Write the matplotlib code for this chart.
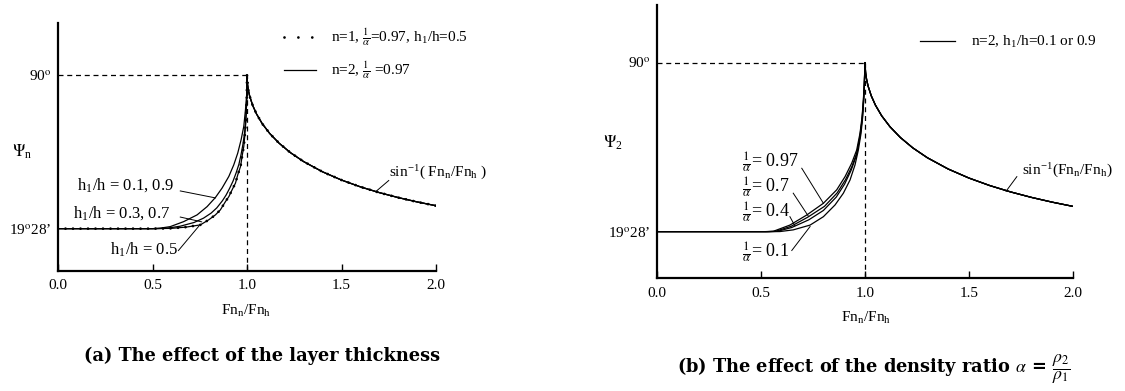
import matplotlib.pyplot as plt
from matplotlib.lines import Line2D

plt.rcParams['font.family'] = ['Liberation Serif', 'DejaVu Serif']
plt.rcParams['mathtext.fontset'] = 'stix'
plt.rcParams['font.size'] = 11

W, H = 1125, 391

# supercritical branch (Fn_n/Fn_h > 1), common to every curve
fr_sup = [1.0, 1.003, 1.008, 1.015, 1.03, 1.05, 1.08, 1.12, 1.17, 1.23, 1.3,
          1.4, 1.5, 1.6, 1.7, 1.8, 1.9, 2.0]
psi_sup = [90.0, 85.56, 82.78, 80.14, 76.14, 72.25, 67.8, 63.23, 58.73, 54.39,
           50.28, 45.58, 41.81, 38.68, 36.03, 33.75, 31.76, 30.0]

# (a) subcritical branch for different layer thickness
fr_n1 = [0.0, 0.5, 0.6, 0.68, 0.753, 0.797, 0.833, 0.859, 0.886, 0.904, 0.921,
         0.939, 0.951, 0.966, 0.974, 0.983, 0.988, 0.992, 0.996, 0.999, 1.0]
psi_n1 = [19.47, 19.47, 19.6, 20.2, 21.2, 23.5, 25.8, 28.1, 31.9, 34.2, 37.3,
          40.4, 44.2, 48.1, 52.7, 57.3, 61.9, 66.5, 72.7, 80.3, 90.0]
fr_h37 = [0.0, 0.52, 0.58, 0.647, 0.72, 0.77, 0.81, 0.84, 0.87, 0.89, 0.908,
          0.926, 0.942, 0.957, 0.968, 0.978, 0.986, 0.992, 0.996, 0.999, 1.0]
psi_h37 = [19.47, 19.47, 19.7, 20.6, 22.3, 24.3, 26.6, 29.0, 32.3, 35.0, 38.0,
           41.3, 45.0, 49.0, 53.3, 58.0, 62.8, 67.5, 73.5, 81.0, 90.0]
fr_h19 = [0.0, 0.5, 0.541, 0.594, 0.665, 0.736, 0.789, 0.833, 0.868, 0.904,
          0.93, 0.951, 0.969, 0.983, 0.992, 0.999, 1.0]
psi_h19 = [19.47, 19.47, 19.7, 20.4, 22.7, 25.8, 29.6, 33.8, 38.1, 43.5, 48.8,
           54.2, 60.4, 66.5, 74.2, 81.9, 90.0]

# (b) subcritical branch for different density ratio 1/alpha
fr_a97 = [0.0, 0.52, 0.559, 0.639, 0.72, 0.8, 0.864, 0.904, 0.936, 0.96, 0.976,
          0.986, 0.992, 0.997, 1.0]
psi_a97 = [19.47, 19.47, 19.6, 22.2, 26.4, 31.3, 36.9, 42.4, 48.0, 53.5, 60.5,
           67.4, 74.4, 81.4, 90.0]
fr_a7 = [0.0, 0.53, 0.57, 0.645, 0.725, 0.805, 0.866, 0.906, 0.937, 0.961, 0.977,
         0.987, 0.993, 0.997, 1.0]
psi_a7 = [19.47, 19.47, 19.6, 21.7, 25.5, 30.0, 35.6, 41.1, 46.6, 52.4, 59.5,
          66.6, 73.8, 81.0, 90.0]
fr_a4 = [0.0, 0.54, 0.58, 0.648, 0.73, 0.8, 0.862, 0.902, 0.933, 0.958, 0.973,
         0.984, 0.991, 0.996, 1.0]
psi_a4 = [19.47, 19.47, 19.6, 21.2, 24.4, 28.3, 33.9, 39.3, 45.0, 51.0, 57.8,
          64.8, 72.0, 79.5, 90.0]
fr_a1 = [0.0, 0.56, 0.591, 0.655, 0.736, 0.8, 0.856, 0.896, 0.928, 0.952, 0.968,
         0.981, 0.989, 0.995, 1.0]
psi_a1 = [19.47, 19.47, 19.5, 20.2, 22.2, 25.7, 30.6, 35.5, 41.0, 47.3, 53.5,
          60.5, 67.4, 75.8, 90.0]

xticks = [0.0, 0.5, 1.0, 1.5, 2.0]
yticks = [19.47, 90.0]
ytick_labels = ["19$^{\\rm o}$28\u2019", "90$^{\\rm o}$"]
fn_label = "Fn$_\\mathregular{n}$/Fn$_\\mathregular{h}$"
sin_label = "sin$^\\mathregular{-1}$( Fn$_\\mathregular{n}$/Fn$_\\mathregular{h}$ )"

lw = 0.9
dot_style = dict(color='black', lw=2.0, dashes=(0.001, 2.7),
                 dash_capstyle='round')


def px_axes(x0, y0, x1, y1):
    return fig.add_axes([x0 / W, 1 - y1 / H, (x1 - x0) / W, (y1 - y0) / H])


def frame(ax):
    ax.set_xlim(0, 2.0)
    ax.set_ylim(0, 114)
    for s in ['top', 'right']:
        ax.spines[s].set_visible(False)
    for s in ['left', 'bottom']:
        ax.spines[s].set_linewidth(1.6)
    ax.set_xticks(xticks)
    ax.set_xticklabels([f"{t:.1f}" for t in xticks])
    ax.set_yticks(yticks)
    ax.set_yticklabels(ytick_labels)
    ax.tick_params(axis='x', direction='in', length=5, width=1, pad=6, labelsize=11)
    ax.tick_params(axis='y', length=0, pad=5, labelsize=11)
    # critical speed guides
    ax.plot([0, 1], [90, 90], color='black', lw=0.9, ls=(0, (4, 3)))
    ax.plot([1, 1], [0, 90], color='black', lw=0.9, ls=(0, (4, 3)))


def leader(ax, p0, p1):
    ax.plot([p0[0], p1[0]], [p0[1], p1[1]], color='black', lw=0.7)


fig = plt.figure(figsize=(W / 100, H / 100), dpi=100)

# ---------------- (a) layer thickness ----------------
ax1 = px_axes(58, 23, 436, 271)
frame(ax1)
for fr, psi in [(fr_h19, psi_h19), (fr_h37, psi_h37), (fr_n1, psi_n1)]:
    ax1.plot(fr + fr_sup[1:], psi + psi_sup[1:], color='black', lw=lw)
ax1.plot(fr_n1 + fr_sup[1:], psi_n1 + psi_sup[1:], **dot_style)

ax1.text(0.10, 39.5, "h$_\\mathregular{1}$/h = 0.1, 0.9", ha='left', va='center', fontsize=12)
leader(ax1, (0.647, 36.8), (0.833, 33.6))
ax1.text(0.08, 26.7, "h$_\\mathregular{1}$/h = 0.3, 0.7", ha='left', va='center', fontsize=12)
leader(ax1, (0.647, 24.8), (0.76, 22.6))
ax1.text(0.276, 9.6, "h$_\\mathregular{1}$/h = 0.5", ha='left', va='center', fontsize=12)
leader(ax1, (0.637, 9.4), (0.745, 20.6))
ax1.text(1.75, 45.5, sin_label, ha='left', va='center', fontsize=11)
leader(ax1, (1.75, 41.6), (1.68, 36.4))

dot_proxy = Line2D([], [], color='black', lw=2.0, dashes=(0.001, 5.0),
                   dash_capstyle='round')
solid_proxy = Line2D([], [], color='black', lw=lw)
ax1.legend([dot_proxy, solid_proxy],
           ["n=1, $\\frac{1}{\\alpha}$=0.97, h$_\\mathregular{1}$/h=0.5",
            "n=2, $\\frac{1}{\\alpha}$ =0.97"],
           loc='upper left', bbox_to_anchor=(284 / W, 1 - 27 / H),
           bbox_transform=fig.transFigure, frameon=False, borderpad=0,
           borderaxespad=0, handlelength=2.1, handletextpad=1.0,
           labelspacing=0.75, fontsize=11)
ax1.set_ylabel("$\\Psi_\\mathregular{n}$", rotation=0, fontsize=12,
               ha='center', va='center')
ax1.yaxis.set_label_coords(-0.095, 0.48)

# ---------------- (b) density ratio ----------------
ax2 = px_axes(657, 5, 1073, 278.3)
frame(ax2)
for fr, psi in [(fr_a97, psi_a97), (fr_a7, psi_a7), (fr_a4, psi_a4), (fr_a1, psi_a1)]:
    ax2.plot(fr + fr_sup[1:], psi + psi_sup[1:], color='black', lw=lw)

ax2.text(0.407, 48.7, "$\\frac{1}{\\alpha}$= 0.97", ha='left', va='center', fontsize=13)
leader(ax2, (0.696, 45.9), (0.80, 31.3))
ax2.text(0.407, 38.2, "$\\frac{1}{\\alpha}$= 0.7", ha='left', va='center', fontsize=13)
leader(ax2, (0.655, 35.5), (0.727, 26.0))
ax2.text(0.407, 27.8, "$\\frac{1}{\\alpha}$= 0.4", ha='left', va='center', fontsize=13)
leader(ax2, (0.639, 25.7), (0.663, 21.9))
ax2.text(0.407, 11.1, "$\\frac{1}{\\alpha}$= 0.1", ha='left', va='center', fontsize=13)
leader(ax2, (0.648, 11.6), (0.736, 21.6))
ax2.text(1.755, 45.2, sin_label.replace("( ", "(").replace(" )", ")"),
         ha='left', va='center', fontsize=11)
leader(ax2, (1.73, 42.4), (1.678, 36.3))

ax2.legend([Line2D([], [], color='black', lw=lw)],
           ["n=2, h$_\\mathregular{1}$/h=0.1 or 0.9"],
           loc='upper left', bbox_to_anchor=(920 / W, 1 - 34 / H),
           bbox_transform=fig.transFigure, frameon=False, borderpad=0,
           borderaxespad=0, handlelength=2.3, handletextpad=1.05, fontsize=11)
ax2.set_ylabel("$\\Psi_\\mathregular{2}$", rotation=0, fontsize=12,
               ha='center', va='center')
ax2.yaxis.set_label_coords(-0.106, 0.495)

# axis titles and captions
fig.text(246 / W, 1 - 311 / H, fn_label, ha='center', va='center', fontsize=11)
fig.text(866 / W, 1 - 318 / H, fn_label, ha='center', va='center', fontsize=11)
fig.text(262 / W, 1 - 356 / H, "(a) The effect of the layer thickness",
         ha='center', va='center', fontsize=12.8, fontweight='bold',
         family='DejaVu Serif')
fig.text(874 / W, 1 - 369 / H,
         "(b) The effect of the density ratio $\\alpha$ = $\\dfrac{\\rho_2}{\\rho_1}$",
         ha='center', va='center', fontsize=12.8, fontweight='bold',
         family='DejaVu Serif')

fig.savefig('out.png', dpi=100, facecolor='white')
